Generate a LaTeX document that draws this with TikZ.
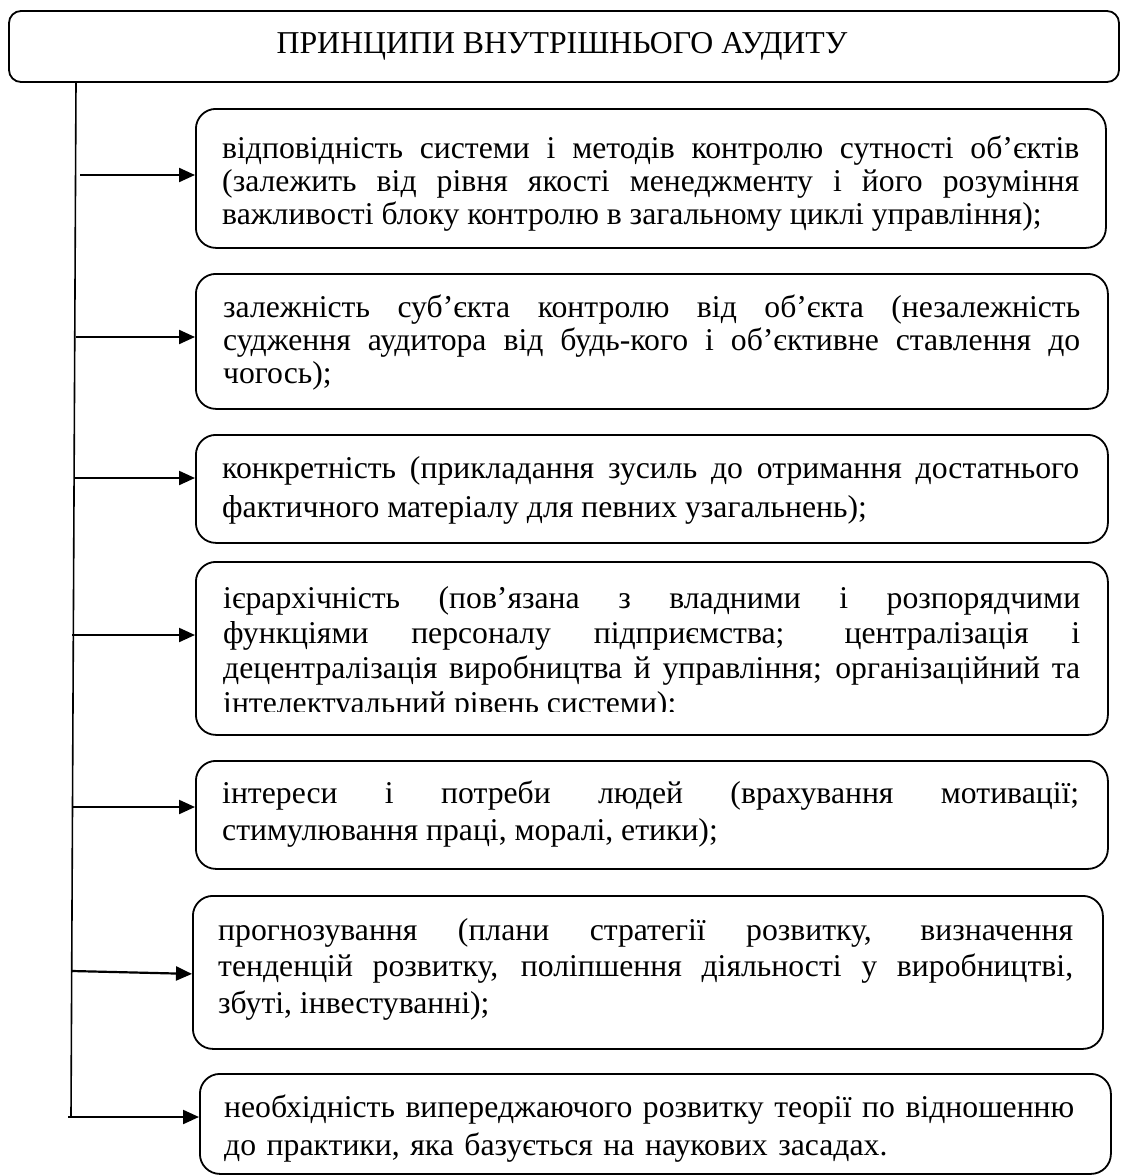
\documentclass[tikz,border=0pt]{standalone}
\usepackage{fontspec}
\setmainfont{Liberation Serif}
\usetikzlibrary{arrows.meta}
\newcommand{\nohyph}{\hyphenpenalty=10000\relax\exhyphenpenalty=10000\relax\tolerance=10000\relax}
\tikzset{
  frame/.style={draw=black, line width=1.8pt, rounded corners=20pt, fill=none, inner sep=0pt, anchor=north west},
  titleframe/.style={draw=black, line width=1.8pt, rounded corners=12pt},
  txt/.style={inner sep=0pt, text width=857pt, align=justify, anchor=base west,
    font=\fontsize{31.7}{34}\selectfont\nohyph},
  trunk/.style={line width=1.6pt},
  conn/.style={line width=2.2pt, -{Triangle[length=16pt,width=14pt]}}
}
\begin{document}
\begin{tikzpicture}[x=1pt,y=-1pt]
\useasboundingbox (0,0) rectangle (1121,1175);
% title
\draw[titleframe] (9,11) rectangle (1119,82);
\node[inner sep=0pt, anchor=base, font=\fontsize{31.8}{34}\selectfont] (title) at (562,53) {ПРИНЦИПИ ВНУТРІШНЬОГО АУДИТУ};
% boxes
\node[frame, minimum width=910pt, minimum height=139pt] (b1) at (195,108) {};
\node[frame, minimum width=912pt, minimum height=135pt] (b2) at (195,273) {};
\node[frame, minimum width=912pt, minimum height=108pt] (b3) at (195,434) {};
\node[frame, minimum width=912pt, minimum height=173pt] (b4) at (195,561) {};
\node[frame, minimum width=912pt, minimum height=108pt] (b5) at (195,760) {};
\node[frame, minimum width=910pt, minimum height=153pt] (b6) at (192,895) {};
\node[frame, minimum width=911pt, minimum height=100pt] (b7) at (199,1073) {};
% texts
\node[txt, font=\fontsize{31.7}{33}\selectfont\nohyph] (t1) at (222,158) {відповідність системи і методів контролю сутності об’єктів\linebreak (залежить від рівня якості менеджменту і його розуміння\linebreak важливості блоку контролю в загальному циклі управління);};
\begin{scope}
\clip (196,274) rectangle (1106,391);
\node[txt, font=\fontsize{31.7}{33}\selectfont\nohyph] (t2) at (223,317) {залежність суб’єкта контролю від об’єкта (незалежність\linebreak судження аудитора від будь-кого і об’єктивне ставлення до\linebreak чогось);};
\end{scope}
\node[txt, font=\fontsize{31.7}{39}\selectfont\nohyph] (t3) at (222,478) {конкретність (прикладання зусиль до отримання достатнього\linebreak фактичного матеріалу для певних узагальнень);};
\begin{scope}
\clip (196,562) rectangle (1106,711);
\node[txt, font=\fontsize{31.7}{35}\selectfont\nohyph] (t4) at (223,608) {ієрархічність (пов’язана з владними і розпорядчими\linebreak функціями персоналу підприємства; централізація і\linebreak децентралізація виробництва й управління; організаційний та\linebreak інтелектуальний рівень системи);};
\end{scope}
\node[txt, font=\fontsize{31.7}{37}\selectfont\nohyph] (t5) at (222,803) {інтереси і потреби людей (врахування мотивації;\linebreak стимулювання праці, моралі, етики);};
\node[txt, text width=855pt, font=\fontsize{31.7}{36.5}\selectfont\nohyph] (t6) at (218,940) {прогнозування (плани стратегії розвитку, визначення\linebreak тенденцій розвитку, поліпшення діяльності у виробництві,\linebreak збуті, інвестуванні);};
\node[txt, font=\fontsize{31.7}{38}\selectfont\nohyph, align=left] (t7) at (224,1117) {необхідність випереджаючого розвитку теорії по відношенню\\ до практики, яка базується на наукових засадах.};
% trunk
\coordinate (trtop) at (76,82);
\coordinate (trbot) at (71,1117);
\draw[trunk] (trtop) -- (trbot);
% arrows
\coordinate (a1) at (80,175);
\coordinate (a2) at (75.5,337);
\coordinate (a3) at (74.5,478);
\coordinate (a4) at (72,635);
\coordinate (a5) at (72.5,807);
\coordinate (a6) at (72,971);
\coordinate (a7) at (68,1117);
\draw[conn] (a1) -- (a1 -| b1.west);
\draw[conn] (a2) -- (a2 -| b2.west);
\draw[conn] (a3) -- (a3 -| b3.west);
\draw[conn] (a4) -- (a4 -| b4.west);
\draw[conn] (a5) -- (a5 -| b5.west);
\draw[conn] (a6) -- ([yshift=-1.5pt]b6.west);
\draw[conn] (a7) -- (a7 -| b7.west);
\end{tikzpicture}
\end{document}
